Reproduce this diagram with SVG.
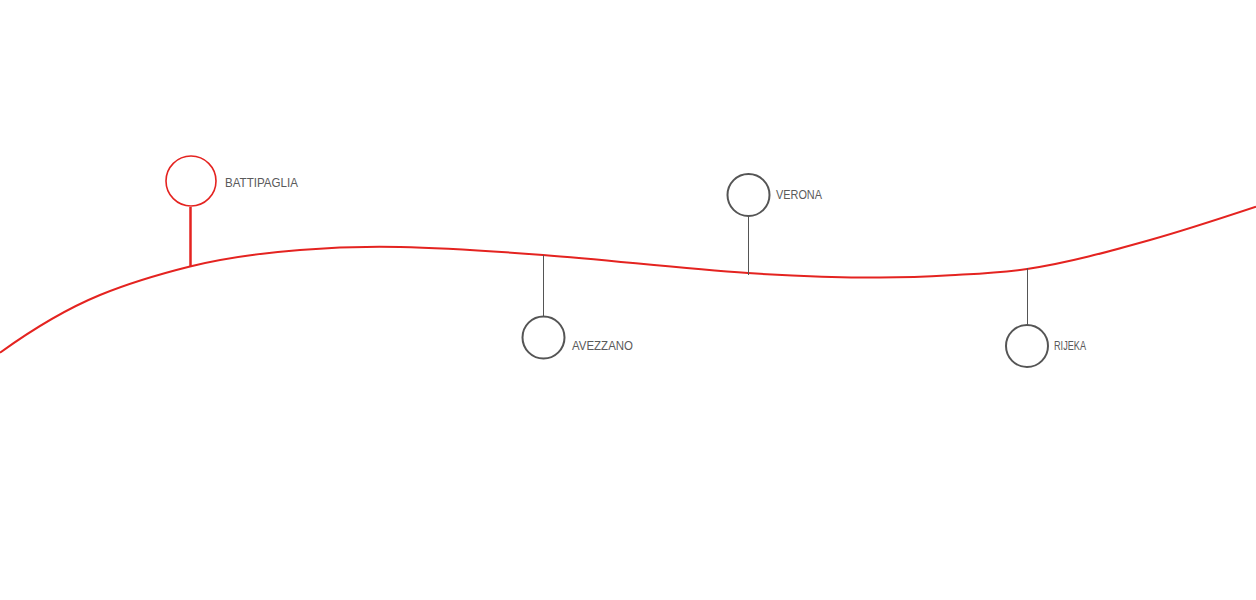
<svg xmlns="http://www.w3.org/2000/svg" width="1256" height="600" viewBox="0 0 1256 600">
<style>
.lbl{font-family:"Liberation Sans",Arial,sans-serif;font-size:13px;fill:#5a5a5a;}
.gc{fill:#fff;stroke:#555;stroke-width:2;}
.gl{stroke:#555;stroke-width:1;}
</style>
<rect width="1256" height="600" fill="#fff"/>
<g id="connectors">
<path d="M0,352.7 C33.3,328.7 66.7,308.7 100,295 C130,282.7 160,274 190,266.5 C226.7,257.3 263.3,252.9 300,250 C333.3,247.3 366.7,246.3 400,247 C447.7,248 495.3,251.4 543,255 C611.3,260.1 679.7,268.6 748,273 C792,275.9 836,277.5 880,277.5 C903.3,277.5 926.7,276.7 950,275.3 C975.7,273.8 1001.3,272.9 1027,269 C1068,262.9 1109,251.5 1150,240 C1185.3,230.1 1220.7,218.4 1256,206.7" fill="none" stroke="#e42320" stroke-width="2"/>
<line x1="190.5" y1="207" x2="190.5" y2="267" stroke="#e42320" stroke-width="2.5"/>
<line class="gl" x1="543.5" y1="255" x2="543.5" y2="316"/>
<line class="gl" x1="748.5" y1="216" x2="748.5" y2="275"/>
<line class="gl" x1="1027.5" y1="268" x2="1027.5" y2="325"/>
</g>
<g id="battipaglia">
<circle cx="191" cy="181" r="25" fill="#fff" stroke="#e42320" stroke-width="1.6"/>
<text class="lbl" x="225" y="186.5" textLength="73" lengthAdjust="spacingAndGlyphs">BATTIPAGLIA</text>
</g>
<g id="avezzano">
<circle class="gc" cx="543.5" cy="337.5" r="21"/>
<text class="lbl" x="572" y="349.5" textLength="61" lengthAdjust="spacingAndGlyphs">AVEZZANO</text>
</g>
<g id="verona">
<circle class="gc" cx="748.5" cy="195" r="21"/>
<text class="lbl" x="776" y="198.5" textLength="46" lengthAdjust="spacingAndGlyphs">VERONA</text>
</g>
<g id="rijeka">
<circle class="gc" cx="1027" cy="346" r="21"/>
<text class="lbl" x="1054" y="349.5" textLength="32" lengthAdjust="spacingAndGlyphs">RIJEKA</text>
</g>
</svg>
